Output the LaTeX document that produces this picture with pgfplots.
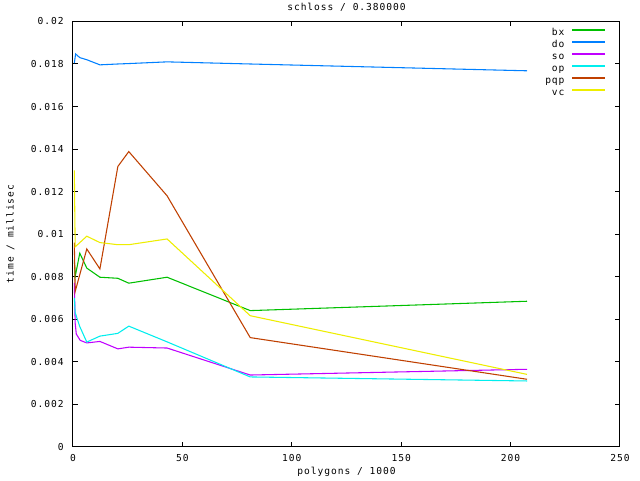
\documentclass[border=0pt]{standalone}
\usepackage{pgfplots}
\pgfplotsset{compat=1.18}
\usepackage{fontspec}
\newfontfamily\gpfont[LetterSpace=10]{DejaVu Sans Mono}
\newcommand{\gp}{\gpfont\fontsize{7.2}{8.6}\selectfont}
\definecolor{cbx}{HTML}{00C000}
\definecolor{cdo}{HTML}{0080FF}
\definecolor{cso}{HTML}{C000FF}
\definecolor{cop}{HTML}{00EEEE}
\definecolor{cpqp}{HTML}{C04000}
\definecolor{cvc}{HTML}{EEEE00}
\begin{document}
\begin{tikzpicture}
\path[fill=white] (-54.75pt,-25pt) rectangle (425.25pt,335pt);
\begin{axis}[
  at={(0,0)}, anchor=south west,
  scale only axis, width=410.25pt, height=318.9pt,
  xmin=0, xmax=250, ymin=0, ymax=0.02,
  xtick={0,50,100,150,200,250},
  ytick={0,0.002,0.004,0.006,0.008,0.01,0.012,0.014,0.016,0.018,0.02},
  yticklabels={0,0.002,0.004,0.006,0.008,0.01,0.012,0.014,0.016,0.018,0.02},
  xticklabels={0,50,100,150,200,250},
  scaled y ticks=false, scaled x ticks=false,
  /pgf/number format/assume math mode=true,
  tick align=inside, major tick length=3.4pt, minor tick num=0,
  every tick/.style={black, line width=0.75pt},
  axis line style={black, line width=0.75pt},
  ticklabel style={font=\gp},
  yticklabel style={anchor=east, inner sep=0pt, xshift=-6.75pt},
  xticklabel style={anchor=center, inner sep=0pt, yshift=-8.5pt},
  xlabel={polygons / 1000}, ylabel={time / millisec},
  title={schloss / 0.380000},
  label style={font=\gp},
  xlabel style={at={(axis description cs:0.5,-0.0596)}, anchor=center, inner sep=0pt},
  ylabel style={at={(axis description cs:-0.1146,0.5)}, anchor=center, inner sep=0pt},
  title style={at={(axis description cs:0.5,1.0135)}, anchor=center, inner sep=0pt, font=\gp},
  legend style={at={(axis description cs:0.9756,0.9876)}, anchor=north east,
    draw=none, fill=none, font=\gp, inner sep=0pt, row sep=0pt,
    nodes={inner sep=0pt, inner ysep=1pt, text height=5.5pt, text depth=1.5pt},
    /tikz/every odd column/.append style={column sep=5pt}},
  legend plot pos=right, legend cell align=right,
  legend image code/.code={\draw[#1, line width=1.4pt] (0pt,2.4pt) -- (25pt,2.4pt);},
  every axis plot/.append style={line width=0.8pt, mark=none},
]
\addplot[cbx] coordinates {(0.6,0.0088) (1.0,0.0080) (3.1,0.0091) (6.3,0.0084) (12.3,0.00797) (20.5,0.00792) (25.5,0.00769) (43,0.00797) (81,0.0064) (207.5,0.00684)};
\addlegendentry{bx}
\addplot[cdo] coordinates {(0.6,0.01804) (1.2,0.01847) (3.1,0.0183) (6.3,0.0182) (12.3,0.01796) (20.5,0.0180) (25.5,0.01802) (43,0.0181) (81,0.0180) (207.5,0.01768)};
\addlegendentry{do}
\addplot[cso] coordinates {(0.6,0.0077) (1.0,0.0058) (1.5,0.0053) (3.3,0.0050) (6.3,0.00488) (12.3,0.00495) (20.5,0.0046) (25.5,0.00468) (43,0.00464) (81,0.00337) (207.5,0.00364)};
\addlegendentry{so}
\addplot[cop] coordinates {(0.6,0.0070) (1.0,0.0063) (3.1,0.00565) (6.3,0.00492) (12.3,0.0052) (20.5,0.00533) (25.5,0.00567) (43,0.00493) (81,0.00328) (207.5,0.00309)};
\addlegendentry{op}
\addplot[cpqp] coordinates {(0.6,0.0096) (1.0,0.0073) (6.3,0.0093) (12.3,0.00836) (20.5,0.01318) (25.5,0.01388) (43,0.0118) (81,0.00513) (207.5,0.00317)};
\addlegendentry{pqp}
\addplot[cvc] coordinates {(0.6,0.0130) (1.0,0.0094) (6.3,0.0099) (12.3,0.0096) (20.5,0.0095) (25.5,0.0095) (43,0.00977) (81,0.00616) (207.5,0.0034)};
\addlegendentry{vc}
\end{axis}
\end{tikzpicture}
\end{document}
